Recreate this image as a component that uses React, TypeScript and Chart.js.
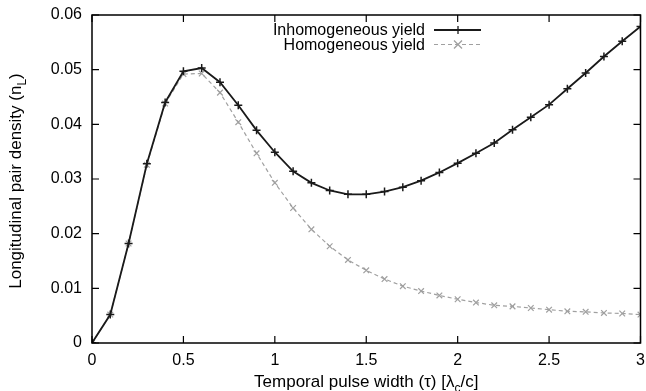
import React, { useEffect, useRef } from "react";
import { Chart, registerables } from "chart.js";

Chart.register(...registerables);

const pulseWidth = [0, 0.1, 0.2, 0.3, 0.4, 0.5, 0.6, 0.7, 0.8, 0.9, 1.0, 1.1, 1.2, 1.3, 1.4, 1.5, 1.6, 1.7, 1.8, 1.9, 2.0, 2.1, 2.2, 2.3, 2.4, 2.5, 2.6, 2.7, 2.8, 2.9, 3.0];
const inhomogeneousYield = [0, 0.0052, 0.0182, 0.0328, 0.044, 0.0497, 0.0503, 0.0477, 0.0435, 0.0389, 0.0349, 0.0314, 0.0293, 0.0279, 0.0272, 0.0272, 0.0277, 0.0285, 0.0297, 0.0312, 0.0329, 0.0347, 0.0366, 0.039, 0.0413, 0.0436, 0.0465, 0.0494, 0.0524, 0.0552, 0.0579];
const homogeneousYield = [0, 0.0052, 0.0182, 0.0326, 0.0438, 0.0492, 0.0493, 0.0458, 0.0404, 0.0347, 0.0293, 0.0247, 0.0208, 0.0177, 0.0152, 0.0133, 0.0117, 0.0104, 0.0095, 0.0087, 0.008, 0.0074, 0.0069, 0.0067, 0.0064, 0.0061, 0.0058, 0.0057, 0.0055, 0.0054, 0.0052];
const seriesLabels = ["Inhomogeneous yield", "Homogeneous yield"];
const xTitle = ["Temporal pulse width (τ) [λ", "c", "/c]"];
const yTitle = ["Longitudinal pair density (n", "L", ")"];

const FONT = '"Liberation Sans", Arial, sans-serif';
const INK = "#1a1a1a";
const GREY = "#a0a0a0";

function drawPieces(ctx: CanvasRenderingContext2D, pieces: string[], cx: number, cy: number, size: number) {
  const main = `${size}px ${FONT}`;
  const sub = `${Math.round(size * 0.72)}px ${FONT}`;
  const widths = pieces.map((p, i) => {
    ctx.font = i === 1 ? sub : main;
    return ctx.measureText(p).width;
  });
  const total = widths.reduce((a, b) => a + b, 0);
  let x = cx - total / 2;
  pieces.forEach((p, i) => {
    ctx.font = i === 1 ? sub : main;
    ctx.fillText(p, x, i === 1 ? cy + size * 0.28 : cy);
    x += widths[i];
  });
}

const framePlugin = {
  id: "frame",
  afterDraw(chart: any) {
    const { ctx, chartArea: a, scales } = chart;
    ctx.save();
    ctx.strokeStyle = "#000";
    ctx.lineWidth = 1.5;
    ctx.strokeRect(a.left, a.top, a.right - a.left, a.bottom - a.top);
    const tl = 7;
    ctx.lineWidth = 1.2;
    ctx.beginPath();
    scales.x.ticks.forEach((t: any) => {
      const px = scales.x.getPixelForValue(t.value);
      ctx.moveTo(px, a.bottom);
      ctx.lineTo(px, a.bottom - tl);
      ctx.moveTo(px, a.top);
      ctx.lineTo(px, a.top + tl);
    });
    scales.y.ticks.forEach((t: any) => {
      const py = scales.y.getPixelForValue(t.value);
      ctx.moveTo(a.left, py);
      ctx.lineTo(a.left + tl, py);
      ctx.moveTo(a.right, py);
      ctx.lineTo(a.right - tl, py);
    });
    ctx.stroke();

    // axis titles
    ctx.fillStyle = "#000";
    ctx.textBaseline = "alphabetic";
    ctx.textAlign = "left";
    drawPieces(ctx, xTitle, (a.left + a.right) / 2, 387, 17);
    ctx.save();
    ctx.translate(21, (a.top + a.bottom) / 2 + 2);
    ctx.rotate(-Math.PI / 2);
    drawPieces(ctx, yTitle, 0, 0, 17);
    ctx.restore();

    // legend
    const rows = [
      { y: 30, color: INK, dash: [] as number[], width: 1.8, marker: "plus" },
      { y: 44.5, color: GREY, dash: [4, 3], width: 1.2, marker: "x" },
    ];
    ctx.font = `16px ${FONT}`;
    ctx.textAlign = "right";
    ctx.textBaseline = "middle";
    rows.forEach((r, i) => {
      ctx.fillStyle = "#000";
      ctx.fillText(seriesLabels[i], 425, r.y + 1);
      ctx.strokeStyle = r.color;
      ctx.lineWidth = r.width;
      ctx.setLineDash(r.dash);
      ctx.beginPath();
      ctx.moveTo(434, r.y);
      ctx.lineTo(481, r.y);
      ctx.stroke();
      ctx.setLineDash([]);
      ctx.lineWidth = 1.3;
      ctx.beginPath();
      const m = 4;
      if (r.marker === "plus") {
        ctx.moveTo(458 - m, r.y);
        ctx.lineTo(458 + m, r.y);
        ctx.moveTo(458, r.y - m);
        ctx.lineTo(458, r.y + m);
      } else {
        ctx.moveTo(458 - m, r.y - m);
        ctx.lineTo(458 + m, r.y + m);
        ctx.moveTo(458 - m, r.y + m);
        ctx.lineTo(458 + m, r.y - m);
      }
      ctx.stroke();
    });
    ctx.restore();
  },
};

export default function App() {
  const ref = useRef<HTMLCanvasElement>(null);
  useEffect(() => {
    if (!ref.current) return;
    const chart = new Chart(ref.current, {
      type: "line",
      data: {
        datasets: [
          {
            label: seriesLabels[0],
            data: pulseWidth.map((x, i) => ({ x, y: inhomogeneousYield[i] })),
            borderColor: INK,
            backgroundColor: INK,
            borderWidth: 1.8,
            pointStyle: "cross",
            pointRadius: 4,
            pointBorderWidth: 1.5,
            pointBorderColor: INK,
            tension: 0,
            fill: false,
          },
          {
            label: seriesLabels[1],
            data: pulseWidth.map((x, i) => ({ x, y: homogeneousYield[i] })),
            borderColor: GREY,
            backgroundColor: GREY,
            borderWidth: 1.2,
            borderDash: [4, 3],
            pointStyle: "crossRot",
            pointRadius: 4,
            pointBorderWidth: 1.2,
            pointBorderColor: GREY,
            tension: 0,
            fill: false,
          },
        ],
      },
      options: {
        responsive: false,
        animation: false,
        devicePixelRatio: 1,
        layout: { padding: { top: 15, right: 5, left: 0, bottom: 0 } },
        plugins: { legend: { display: false }, tooltip: { enabled: false } },
        scales: {
          x: {
            type: "linear",
            min: 0,
            max: 3,
            grid: { display: false, drawTicks: false },
            border: { display: false },
            ticks: {
              stepSize: 0.5,
              padding: 8,
              color: "#000",
              font: { family: FONT, size: 16 },
              maxRotation: 0,
              callback: (v: any) => String(v),
            },
            afterFit: (s: any) => {
              s.height = 48;
              s.paddingLeft = 0;
              s.paddingRight = 0;
            },
          },
          y: {
            min: 0,
            max: 0.06,
            grid: { display: false, drawTicks: false },
            border: { display: false },
            ticks: {
              stepSize: 0.01,
              padding: 10,
              color: "#000",
              font: { family: FONT, size: 16 },
              callback: (v: any) => (v === 0 ? "0" : Number(v).toFixed(2)),
            },
            afterFit: (s: any) => {
              s.width = 92;
              s.paddingTop = 0;
              s.paddingBottom = 0;
            },
          },
        },
      },
      plugins: [framePlugin],
    } as any);
    return () => chart.destroy();
  }, []);
  return (
    <div style={{ position: "fixed", left: 0, top: 0, width: 646, height: 391, background: "#fff" }}>
      <canvas ref={ref} width={646} height={391} />
    </div>
  );
}
